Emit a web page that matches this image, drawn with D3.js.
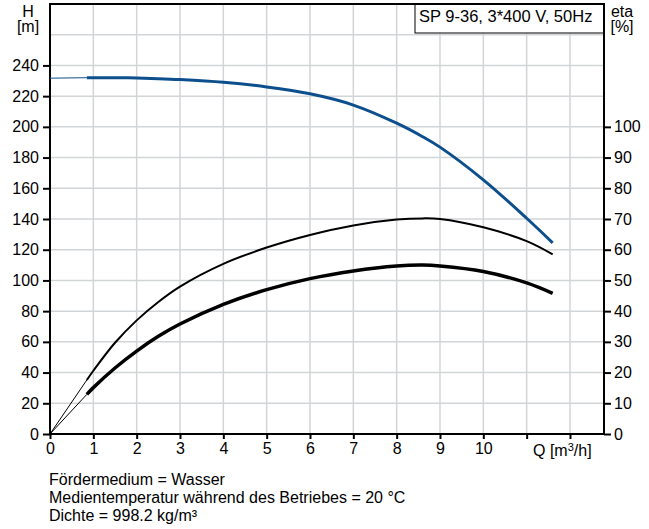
<!DOCTYPE html>
<html>
<head>
<meta charset="utf-8">
<script src="https://cdn.jsdelivr.net/npm/d3@7"></script>
<style>
  body { margin: 0; background: #fff; }
  svg text { font-family: "Liberation Sans", Arial, sans-serif; fill: #000; }
</style>
</head>
<body>
<svg id="chart"></svg>
<script>
var width = 649;
var height = 529;

// plot frame (pixels)
var plotLeft = 50, plotRight = 604, plotTop = 4, plotBottom = 434;

// data
var qFlow    = [0.85, 1, 1.5, 2, 2.5, 3, 4, 5, 6, 7, 8, 8.6, 9, 10, 11, 11.6];
var headH    = [232, 232, 232, 231.8, 231.4, 230.8, 229, 226, 221.5, 214.2, 202.4, 193.6, 186.8, 165.5, 140.5, 124.5];
var etaPump  = [17.6, 20.6, 29.7, 37, 43, 48, 55.4, 60.7, 64.8, 67.9, 69.8, 70.2, 70, 67.3, 62.8, 58.5];
var etaTotal = [12.9, 15.1, 21.5, 27, 31.8, 35.8, 42.2, 47, 50.6, 53.1, 54.7, 55, 54.7, 52.9, 49.2, 45.8];
var headAtZero = 231.7;

var qTicks = [0, 1, 2, 3, 4, 5, 6, 7, 8, 9, 10, 11, 12];
var qLabels = [0, 1, 2, 3, 4, 5, 6, 7, 8, 9, 10];
var hTicks = [0, 20, 40, 60, 80, 100, 120, 140, 160, 180, 200, 220, 240];
var hGrid = [20, 40, 60, 80, 100, 120, 140, 160, 180, 200, 220, 240, 260];
var etaTicks = [0, 10, 20, 30, 40, 50, 60, 70, 80, 90, 100];

var notes = [
  "Fördermedium = Wasser",
  "Medientemperatur während des Betriebes = 20 °C",
  "Dichte = 998.2 kg/m³"
];
var title = "SP 9-36, 3*400 V, 50Hz";

var svg = d3.select('#chart')
    .attr('width', width)
    .attr('height', height);

var x = d3.scaleLinear().domain([0, 12.785]).range([plotLeft, plotRight]);
var y = d3.scaleLinear().domain([0, 280]).range([plotBottom, plotTop]);
var yEta = d3.scaleLinear().domain([0, 140]).range([plotBottom, plotTop]);

var blue = "#0c4f8c";
var fontSize = "16px";

// grid
svg.append("g")
    .selectAll("line")
    .data(qTicks.slice(1))
    .enter().append("line")
    .attr("x1", function (d) { return x(d); })
    .attr("x2", function (d) { return x(d); })
    .attr("y1", plotTop)
    .attr("y2", plotBottom)
    .attr("stroke", "#d2d5d8")
    .attr("stroke-width", 1.5);

svg.append("g")
    .selectAll("line")
    .data(hGrid)
    .enter().append("line")
    .attr("x1", plotLeft)
    .attr("x2", plotRight)
    .attr("y1", function (d) { return y(d); })
    .attr("y2", function (d) { return y(d); })
    .attr("stroke", "#d2d5d8")
    .attr("stroke-width", 1.5);

// title box
svg.append("rect")
    .attr("x", 415)
    .attr("y", plotTop)
    .attr("width", plotRight - 415)
    .attr("height", 29)
    .attr("fill", "#fff")
    .attr("stroke", "#000")
    .attr("stroke-width", 1);
svg.append("text")
    .attr("x", 419)
    .attr("y", 22)
    .style("font-size", "16.5px")
    .text(title);

// axes
var axisBottom = d3.axisBottom(x)
    .tickValues(qTicks)
    .tickSize(5)
    .tickPadding(4)
    .tickFormat(function (d) { return qLabels.indexOf(d) >= 0 ? d : ""; });
var axisLeft = d3.axisLeft(y)
    .tickValues(hTicks)
    .tickSize(7)
    .tickPadding(4);
var axisRight = d3.axisRight(yEta)
    .tickValues(etaTicks)
    .tickSize(7)
    .tickPadding(3);

function styleAxis(g) {
    g.select(".domain").remove();
    g.selectAll(".tick line").attr("stroke", "#000").attr("stroke-width", 2);
    g.selectAll(".tick text")
        .style("font-size", fontSize)
        .style("font-family", '"Liberation Sans", Arial, sans-serif');
}

svg.append("g")
    .attr("transform", "translate(0," + plotBottom + ")")
    .call(axisBottom)
    .call(styleAxis);
svg.append("g")
    .attr("transform", "translate(" + plotLeft + ",0)")
    .call(axisLeft)
    .call(styleAxis);
svg.append("g")
    .attr("transform", "translate(" + plotRight + ",0)")
    .call(axisRight)
    .call(styleAxis);

// frame
svg.append("path")
    .attr("d", "M" + plotLeft + "," + plotTop + "H" + plotRight + "V" + plotBottom + "H" + plotLeft + "Z")
    .attr("fill", "none")
    .attr("stroke", "#000")
    .attr("stroke-width", 2);

// axis titles
svg.append("text").attr("x", 28).attr("y", 17).attr("text-anchor", "middle").style("font-size", fontSize).text("H");
svg.append("text").attr("x", 28).attr("y", 32).attr("text-anchor", "middle").style("font-size", fontSize).text("[m]");
svg.append("text").attr("x", 622).attr("y", 17).attr("text-anchor", "middle").style("font-size", fontSize).text("eta");
svg.append("text").attr("x", 622).attr("y", 32).attr("text-anchor", "middle").style("font-size", fontSize).text("[%]");
svg.append("text").attr("x", 533).attr("y", 456).style("font-size", fontSize)
    .html('Q [m<tspan dy="-5" style="font-size:11px">3</tspan><tspan dy="5">/h]</tspan>');

// curves
var lineH = d3.line()
    .x(function (d, i) { return x(qFlow[i]); })
    .y(function (d) { return y(d); })
    .curve(d3.curveCatmullRom.alpha(0.5));
var lineEta = d3.line()
    .x(function (d, i) { return x(qFlow[i]); })
    .y(function (d) { return yEta(d); })
    .curve(d3.curveCatmullRom.alpha(0.5));

// thin extrapolated starts
svg.append("line")
    .attr("x1", x(0)).attr("y1", y(headAtZero))
    .attr("x2", x(qFlow[0])).attr("y2", y(headH[0]))
    .attr("stroke", blue).attr("stroke-width", 1);
svg.append("line")
    .attr("x1", x(0)).attr("y1", yEta(0))
    .attr("x2", x(qFlow[0])).attr("y2", yEta(etaPump[0]))
    .attr("stroke", "#000").attr("stroke-width", 1);
svg.append("line")
    .attr("x1", x(0)).attr("y1", yEta(0))
    .attr("x2", x(qFlow[0])).attr("y2", yEta(etaTotal[0]))
    .attr("stroke", "#000").attr("stroke-width", 1);

svg.append("path")
    .attr("d", lineEta(etaPump))
    .attr("fill", "none")
    .attr("stroke", "#000")
    .attr("stroke-width", 2);
svg.append("path")
    .attr("d", lineEta(etaTotal))
    .attr("fill", "none")
    .attr("stroke", "#000")
    .attr("stroke-width", 3.5);
svg.append("path")
    .attr("d", lineH(headH))
    .attr("fill", "none")
    .attr("stroke", blue)
    .attr("stroke-width", 3);

// notes under the chart
svg.append("g")
    .selectAll("text")
    .data(notes)
    .enter().append("text")
    .attr("x", 49)
    .attr("y", function (d, i) { return 485 + i * 18; })
    .style("font-size", fontSize)
    .text(function (d) { return d; });
</script>
</body>
</html>
